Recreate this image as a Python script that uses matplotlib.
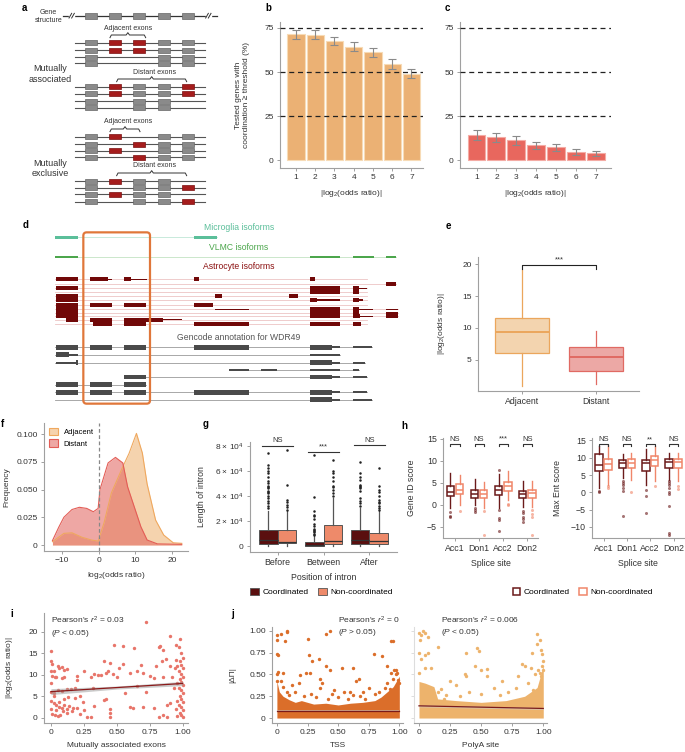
import matplotlib
matplotlib.use('Agg')
import matplotlib.pyplot as plt
import numpy as np
from matplotlib.patches import Rectangle, FancyBboxPatch, Patch

plt.rcParams['font.family'] = ['Liberation Sans', 'DejaVu Sans']
plt.rcParams['font.size'] = 6
plt.rcParams['mathtext.fontset'] = 'custom'
plt.rcParams['mathtext.rm'] = 'Liberation Sans'
plt.rcParams['mathtext.it'] = 'Liberation Sans:italic'
plt.rcParams['mathtext.bf'] = 'Liberation Sans:bold'

# ---------------- data ----------------
thresholds = [1, 2, 3, 4, 5, 6, 7]
adj_pct = [71.5, 71.3, 67.5, 64.3, 61.1, 54.5, 49.1]
adj_err = [2.5, 2.5, 2.4, 2.6, 2.6, 2.7, 2.7]
dist_pct = [14.2, 12.9, 11.2, 8.3, 7.2, 4.7, 3.8]
dist_err = [2.6, 2.5, 2.4, 2.2, 2.2, 1.8, 1.6]

e_groups = ['Adjacent', 'Distant']
e_stats = [  # whislo, q1, med, q3, whishi
    [1.0, 6.1, 9.3, 11.5, 19.0],
    [1.25, 3.2, 5.4, 7.1, 9.6],
]

f_adj_x = [-12.5, -9.4, -7.2, -4.5, -1.9, -0.1, 1.5, 3.5, 6.6, 8.3, 10.3, 11.9, 13.2, 15.5, 17.7, 20.3, 22.6]
f_adj_y = [0.003, 0.0105, 0.011, 0.007, 0.0045, 0.0035, 0.02, 0.047, 0.0706, 0.0826, 0.1006, 0.083, 0.055, 0.0225, 0.009, 0.002, 0.0015]
f_dist_x = [-12.5, -10.8, -9.4, -7.2, -5.2, -3.2, -1.4, -0.1, 0.4, 2.6, 4.6, 6.6, 7.9, 9.7, 11.5, 13.2, 16.0, 22.6]
f_dist_y = [0.004, 0.016, 0.025, 0.032, 0.034, 0.033, 0.030, 0.033, 0.05, 0.074, 0.079, 0.074, 0.0525, 0.0345, 0.0165, 0.0045, 0.001, 0.0006]

g_positions = ['Before', 'Between', 'After']
g_coord = [[0, 1300, 5250, 12850, 28000], [0, 260, 1000, 2900, 8400], [0, 1300, 5000, 12850, 30700]]
g_noncoord = [[0, 2400, 2900, 12850, 28000], [0, 1300, 4450, 17000, 38500], [0, 1800, 3900, 10200, 28000]]
g_coord_fliers = [
    [30000, 32000, 34000, 36000, 38000, 40000, 42000, 43000, 44000, 46000, 47000, 48000, 50000, 52000, 55000, 58000, 60000, 62000, 65000, 74000],
    [9000, 10000, 11000, 12000, 13000, 14000, 16000, 18000, 22000, 24000, 25000, 28000, 39500, 72600],
    [32000, 34000, 36000, 38000, 44000, 46000, 47000, 48000, 49000, 53000, 55000, 58000, 67300]]
g_noncoord_fliers = [
    [29000, 31000, 33000, 35500, 36500, 49000, 76500],
    [40000, 42000, 45000, 47000, 48000, 52000, 55000, 58000, 60000, 68600],
    [29000, 30000, 32000, 34000, 35000, 37000, 40000, 43000, 45000, 48000, 62000]]
g_sig = ['NS', '***', 'NS']
g_sig_y = [80000, 75300, 80300]

splice_sites = ['Acc1', 'Don1', 'Acc2', 'Don2']
geneid_coord = [[-0.6, 2.0, 3.0, 4.3, 7.2], [0.0, 1.6, 2.5, 3.4, 6.0], [-0.8, 2.3, 3.3, 4.2, 7.0], [-0.4, 1.5, 2.4, 3.2, 5.5]]
geneid_noncoord = [[0.0, 2.5, 3.5, 4.7, 6.8], [-0.6, 1.5, 2.5, 3.5, 5.3], [1.1, 3.2, 4.2, 5.1, 7.6], [-0.4, 1.6, 2.8, 3.5, 5.5]]
geneid_coord_fl = [[-1.6, -2.4, -2.7], [-0.8, -1.2, -1.6], [8.0, -1.2, -2.9, -3.5, -5.8], [-1.3, -1.9, -2.7, -3.1, -3.9]]
geneid_noncoord_fl = [[-1.3], [-1.3, -6.9], [0.3, -0.1], [-1.2, -2.0, -2.7, -6.9]]
geneid_sig = ['NS', 'NS', '***', 'NS']
maxent_coord = [[1.2, 6.1, 8.0, 11.0, 13.5], [4.1, 7.0, 8.5, 9.4, 11.2], [2.2, 6.3, 8.5, 9.4, 12.5], [3.7, 7.0, 8.7, 9.6, 11.3]]
maxent_noncoord = [[2.2, 6.5, 8.2, 9.6, 13.7], [3.7, 7.0, 8.5, 9.6, 11.5], [3.2, 7.5, 9.2, 10.6, 13.3], [3.2, 7.0, 8.7, 9.6, 11.3]]
maxent_coord_fl = [[0.5, 0.0], [3.2, 2.7, 2.2, 1.2, 0.3, -6.7], [0.8, -1.2, -6.0], [3.2, 2.7, 2.2, 1.2, 0.0, -0.4, -4.0, -11.7, -12.2]]
maxent_noncoord_fl = [[1.7, 1.2], [0.0], [1.7], [1.9, 1.0]]
maxent_sig = ['NS', 'NS', '**', 'NS']

i_points = [
    (0.00, 15.6), (0.00, 13.2), (0.01, 12.6), (0.00, 11.0), (0.02, 10.9), (0.01, 9.7), (0.03, 9.4), (0.00, 8.0),
    (0.05, 12.1), (0.06, 11.5), (0.08, 11.8), (0.10, 11.1), (0.12, 11.3), (0.04, 9.6), (0.08, 9.3), (0.10, 9.5),
    (0.00, 6.0), (0.02, 5.8), (0.05, 6.5), (0.08, 6.2), (0.12, 6.8), (0.15, 6.6), (0.00, 4.0), (0.02, 3.5),
    (0.04, 3.0), (0.06, 2.6), (0.08, 2.2), (0.10, 3.1), (0.12, 2.0), (0.14, 2.8), (0.16, 1.5), (0.00, 2.0),
    (0.01, 1.0), (0.03, 0.6), (0.05, 0.5), (0.07, 0.6), (0.09, 1.6), (0.12, 1.2), (0.04, 1.8), (0.06, 3.8),
    (0.10, 4.5), (0.02, 5.0), (0.13, 4.8), (0.17, 2.3), (0.18, 7.0), (0.20, 9.8), (0.20, 8.8), (0.18, 4.7),
    (0.20, 2.2), (0.22, 1.0), (0.24, 3.7), (0.25, 1.8), (0.22, 5.2), (0.25, 11.0), (0.27, 0.3), (0.30, 0.3),
    (0.30, 9.5), (0.33, 10.2), (0.32, 7.0), (0.33, 2.8), (0.36, 10.0), (0.38, 9.9), (0.40, 4.2), (0.42, 4.3),
    (0.40, 13.3), (0.42, 10.5), (0.43, 11.0), (0.45, 12.8), (0.47, 10.2), (0.48, 17.0), (0.45, 2.1), (0.45, 1.2),
    (0.45, 0.2), (0.50, 9.5), (0.52, 11.5), (0.55, 16.8), (0.55, 12.5), (0.56, 5.8), (0.60, 10.5), (0.60, 2.5),
    (0.62, 2.4), (0.63, 16.3), (0.65, 11.0), (0.65, 7.5), (0.68, 12.3), (0.70, 2.5), (0.70, 10.5), (0.72, 6.0),
    (0.72, 22.3), (0.75, 9.8), (0.78, 2.3), (0.78, 9.3), (0.80, 12.0), (0.82, 16.5), (0.82, 0.3), (0.83, 16.8),
    (0.84, 13.3), (0.85, 15.8), (0.85, 0.6), (0.85, 9.5), (0.87, 13.8), (0.88, 0.2), (0.88, 3.0), (0.90, 12.0),
    (0.90, 19.0), (0.90, 3.5), (0.92, 9.5), (0.93, 7.0), (0.94, 11.5), (0.95, 17.0), (0.95, 2.0), (0.98, 18.4),
    (0.97, 16.5), (0.99, 15.0), (1.00, 14.0), (0.98, 13.2), (0.99, 12.4), (1.00, 11.6), (0.97, 10.8), (0.99, 10.2),
    (1.00, 9.6), (0.98, 9.0), (0.99, 8.4), (1.00, 7.6), (0.97, 7.0), (0.99, 6.4), (1.00, 5.7), (0.98, 5.0),
    (0.99, 4.4), (1.00, 3.7), (0.97, 3.1), (0.99, 2.5), (1.00, 1.9), (0.98, 1.2), (0.99, 0.6), (1.00, 0.1),
    (0.96, 12.0), (0.96, 4.0), (0.96, 8.0), (0.95, 13.5), (0.96, 0.5)]
i_fit_x = [0.0, 0.5, 1.0]
i_fit_y = [6.1, 7.05, 8.0]
i_fit_se = [0.7, 0.35, 0.5]

j_tss_points = [
    (0.00, 0.95), (0.03, 0.97), (0.08, 0.99), (0.08, 1.00), (0.07, 0.88), (0.00, 0.90), (0.00, 0.73), (0.01, 0.72),
    (0.01, 0.53), (0.00, 0.50), (0.25, 0.91), (0.26, 0.72), (0.29, 0.65), (0.34, 0.68), (0.40, 0.96), (0.43, 1.00),
    (0.40, 0.60), (0.43, 0.55), (0.53, 0.58), (0.62, 0.58), (0.67, 0.45), (0.79, 0.74), (0.86, 0.71), (0.90, 0.60),
    (0.93, 0.88), (0.95, 0.89), (0.93, 0.52), (0.96, 0.55), (0.97, 0.50), (0.98, 0.52), (0.19, 0.49), (0.24, 0.52),
    (0.35, 0.45), (0.05, 0.52), (0.00, 0.42), (0.03, 0.42), (0.12, 0.38), (0.18, 0.40), (0.27, 0.52), (0.35, 0.35),
    (0.37, 0.40), (0.45, 0.28), (0.55, 0.30), (0.60, 0.30), (0.65, 0.42), (0.70, 0.30), (0.75, 0.35), (0.80, 0.28),
    (0.88, 0.35), (0.90, 0.40), (0.95, 0.45), (0.97, 0.55), (0.28, 0.28), (0.22, 0.25), (0.15, 0.30), (0.42, 0.22),
    (0.08, 0.30), (0.10, 0.26), (0.32, 0.24), (0.50, 0.24), (0.58, 0.22), (0.68, 0.25), (0.72, 0.22), (0.83, 0.30),
    (0.92, 0.33), (0.99, 0.44), (1.00, 0.40), (0.05, 0.36), (0.47, 0.32), (0.62, 0.27)]
j_tss_band_x = [0.0, 0.02, 0.05, 0.1, 0.15, 0.2, 0.3, 0.4, 0.5, 0.6, 0.7, 0.8, 0.85, 0.9, 0.95, 1.0]
j_tss_band_top = [0.42, 0.30, 0.25, 0.21, 0.18, 0.20, 0.16, 0.17, 0.15, 0.17, 0.18, 0.20, 0.24, 0.30, 0.36, 0.48]
j_polya_points = [
    (0.00, 0.98), (0.02, 0.95), (0.05, 0.98), (0.03, 1.00), (0.01, 0.90), (0.07, 0.93), (0.00, 0.75), (0.05, 0.72),
    (0.02, 0.68), (0.07, 0.75), (0.15, 0.81), (0.05, 0.58), (0.00, 0.52), (0.10, 0.57), (0.38, 0.75), (0.47, 0.80),
    (0.48, 0.77), (0.45, 0.60), (0.50, 0.55), (0.55, 0.56), (0.37, 0.50), (0.38, 0.48), (0.83, 0.62), (0.85, 0.60),
    (0.90, 0.58), (0.91, 0.75), (0.95, 0.85), (0.95, 0.97), (0.97, 0.90), (0.98, 0.78), (0.99, 0.73), (0.99, 0.60),
    (0.96, 0.55), (0.97, 0.52), (0.93, 0.50), (0.80, 0.48), (0.67, 0.43), (0.55, 0.48), (0.25, 0.42), (0.30, 0.38),
    (0.18, 0.33), (0.15, 0.30), (0.40, 0.30), (0.60, 0.35), (0.72, 0.30), (0.78, 0.35), (0.88, 0.40), (0.22, 0.27),
    (0.33, 0.25), (0.50, 0.28), (0.65, 0.26), (0.92, 0.32), (0.98, 0.48), (1.00, 0.66), (1.00, 0.55), (0.20, 0.22)]
j_polya_band_x = [0.0, 0.05, 0.12, 0.15, 0.3, 0.5, 0.7, 0.85, 0.95, 1.0]
j_polya_band_top = [0.42, 0.40, 0.36, 0.22, 0.20, 0.18, 0.20, 0.25, 0.35, 0.60]
j_tss_fit = [0.08, 0.08]
j_polya_fit = [0.14, 0.11]

# schematic structure (panel a): exon slots and row patterns (G grey, R red, 0 absent)
a_exon_slots = [272, 345, 418, 492, 565]
a_groups = [
    ([128, 150, 172, 190], ['GRRGG', 'GRRGG', 'G00GG', 'G00GG']),
    ([260, 281, 303, 323], ['GRGGR', 'GRGGR', 'G0GG0', 'G0GG0']),
    ([410, 432, 452, 472], ['GR0GG', 'G0RGG', 'GR0GG', 'G0RGG']),
    ([543, 563, 583, 605], ['GRGG0', 'G0GGR', 'GRGG0', 'G0GGR']),
]

# panel d isoform structures (genomic coordinate units)
microglia = [(165, 233), (583, 650)]
vlmc = [(165, 233), (930, 1020), (1058, 1122), (1158, 1188)]
astro_rows = [
    (238, [(168, 233, 1), (270, 325, 1), (325, 335, 0), (372, 392, 1), (392, 440, 0), (582, 597, 1), (930, 945, 1)]),
    (251, [(1158, 1188, 1)]),
    (265, [(168, 233, 1), (930, 1020, 1), (1058, 1078, 1), (1078, 1100, 0)]),
    (276, [(930, 1020, 1), (1058, 1078, 1)]),
    (288, [(168, 233, 1), (645, 665, 1), (868, 895, 1)]),
    (300, [(168, 233, 1), (930, 950, 1), (950, 1020, 0), (1058, 1078, 1), (1078, 1090, 0)]),
    (316, [(168, 233, 1), (270, 335, 1), (372, 438, 1), (582, 638, 1)]),
    (328, [(168, 233, 1), (645, 748, 0), (930, 1020, 1), (1058, 1078, 1), (1078, 1120, 0), (1158, 1195, 0)]),
    (339, [(168, 233, 1), (930, 1020, 1), (1058, 1078, 1), (1158, 1195, 0)]),
    (348, [(168, 233, 1), (930, 1020, 1), (1058, 1080, 1), (1080, 1120, 0), (1158, 1195, 1)]),
    (358, [(198, 233, 1), (270, 335, 1), (372, 438, 1), (438, 488, 1), (488, 545, 0)]),
    (370, [(280, 335, 1), (372, 438, 1), (582, 748, 1), (930, 1020, 1), (1058, 1082, 1)]),
]
gencode_rows = [
    (441, 165, [(168, 233, 1), (270, 335, 1), (372, 438, 1), (582, 748, 1), (930, 995, 1), (995, 1020, 0), (1058, 1115, 0)]),
    (463, 165, [(168, 208, 1), (208, 233, 0), (930, 1020, 0)]),
    (487, 165, [(168, 228, 0), (228, 233, 1), (930, 995, 1), (995, 1020, 0), (1058, 1095, 0)]),
    (508, 686, [(686, 748, 0), (783, 830, 0), (930, 1020, 0), (1058, 1078, 0)]),
    (530, 372, [(372, 438, 1), (930, 995, 1), (995, 1020, 0), (1058, 1100, 0)]),
    (553, 165, [(168, 233, 1), (270, 335, 1), (372, 438, 1)]),
    (576, 165, [(168, 233, 1), (270, 335, 1), (372, 438, 1), (582, 748, 1), (930, 995, 1), (995, 1020, 0), (1058, 1100, 0)]),
    (598, 165, [(930, 995, 1), (995, 1020, 0), (1058, 1115, 0)]),
]

# ---------------- figure ----------------
W, H = 685, 752
fig = plt.figure(figsize=(6.85, 7.52), dpi=100)
fig.patch.set_facecolor('white')

def add_ax(l, t, r, b):
    return fig.add_axes([l / W, 1 - b / H, (r - l) / W, (b - t) / H])

GREY = '#a0a0a0'
TXT = '#333333'
def style(ax):
    for s in ['top', 'right']:
        ax.spines[s].set_visible(False)
    for s in ['left', 'bottom']:
        ax.spines[s].set_color(GREY)
        ax.spines[s].set_linewidth(0.8)
    ax.tick_params(colors=GREY, labelcolor=TXT, length=2.5, width=0.7, labelsize=6, pad=2)

def plabel(x, y, s):
    fig.text(x / W, 1 - y / H, s, weight='bold', size=7, va='top', ha='left')

for (x, y, s) in [(22, 3, 'a'), (265, 3, 'b'), (445, 3, 'c'), (23, 220, 'd'), (446, 221, 'e'),
                  (1, 419, 'f'), (203, 419, 'g'), (401, 421, 'h'), (10, 609, 'i'), (231, 609, 'j')]:
    plabel(x, y, s)

# ---------- panel a ----------
axa = add_ax(0, 0, 230, 240)
axa.set_xlim(0, 690); axa.set_ylim(720, 0); axa.axis('off')
axa.plot([190, 650], [47, 47], color=TXT, lw=0.9, zorder=1)
for xs in [215, 625]:
    axa.add_patch(Rectangle((xs - 7, 42), 14, 10, color='white', zorder=2))
    for dx in [-4, 4]:
        axa.plot([xs + dx - 4, xs + dx + 4], [54, 40], color=TXT, lw=0.7, zorder=3)
for xc in a_exon_slots:
    axa.add_patch(Rectangle((xc - 18, 39), 36, 17, fc='#8a8a8a', ec='#666666', lw=0.5, zorder=3))
axa.text(145, 50, 'Gene\nstructure', ha='center', va='center', size=5, color=TXT, linespacing=1.1)
for rows, pats in a_groups:
    for ry, pat in zip(rows, pats):
        axa.plot([225, 615], [ry, ry], color='#555555', lw=0.8, zorder=1)
        for xc, p in zip(a_exon_slots, pat):
            if p == '0':
                continue
            fc = '#a51c1c' if p == 'R' else '#8a8a8a'
            ec = '#7a1010' if p == 'R' else '#666666'
            axa.add_patch(Rectangle((xc - 18, ry - 7.5), 36, 15, fc=fc, ec=ec, lw=0.5, zorder=3))

def brace(ax, x0, x1, y):
    m = (x0 + x1) / 2
    ax.plot([x0, x0 + 4, m - 5, m, m + 5, x1 - 4, x1], [y + 8, y, y, y - 7, y, y, y + 8],
            color=TXT, lw=0.7)

for (x0, x1, y, ty, lab) in [(330, 437, 105, 84, 'Adjacent exons'), (350, 560, 237, 216, 'Distant exons'),
                             (330, 420, 387, 364, 'Adjacent exons'), (350, 560, 519, 496, 'Distant exons')]:
    brace(axa, x0, x1, y)
    axa.text(383 if lab.startswith('Adj') else 463, ty, lab, ha='center', va='center', size=5, color=TXT)
axa.text(150, 222, 'Mutually\nassociated', ha='center', va='center', size=6.5, color=TXT, linespacing=1.2)
axa.text(150, 505, 'Mutually\nexclusive', ha='center', va='center', size=6.5, color=TXT, linespacing=1.2)

# ---------- panels b, c ----------
for (l, r, vals, errs, fc, ec, show_ylabel) in [
        (280, 423, adj_pct, adj_err, '#EBB174', '#F7DBB6', True),
        (460, 611, dist_pct, dist_err, '#E8675E', '#F4ABA4', False)]:
    ax = add_ax(l, 22, r, 168)
    style(ax)
    ax.bar(thresholds, vals, width=0.9, color=fc, edgecolor=ec, lw=0.8, zorder=2)
    ax.errorbar(thresholds, vals, yerr=errs, fmt='none', ecolor='#8a8a8a', elinewidth=0.8, capsize=2.8, capthick=0.8, zorder=3)
    for yv in [25, 50, 75]:
        ax.axhline(yv, color='#222222', lw=0.9, ls=(0, (4, 3)), zorder=4)
    ax.set_xlim(0.17, 7.6 if show_ylabel else 7.75)
    ax.set_ylim(-4.5, 78.4)
    ax.set_xticks(thresholds)
    ax.set_yticks([0, 25, 50, 75])
    ax.set_xlabel('|log$_2$(odds ratio)|', size=6, color=TXT, labelpad=5)
    if show_ylabel:
        ax.set_ylabel('Tested genes with\ncoordination \u2265 threshold (%)', size=6, color=TXT)
        ax.yaxis.set_label_coords(-0.21, 0.5)

# ---------- panel d ----------
axd = add_ax(50, 220, 400, 407)
axd.set_xlim(150, 1200); axd.set_ylim(620, 60); axd.axis('off')

def seg(ax, y, x0, x1, h, color, z=3):
    ax.add_patch(Rectangle((x0, y - h / 2), x1 - x0, h, color=color, lw=0, zorder=z))

axd.plot([165, 650], [112, 112], color='#BFE6D6', lw=0.6)
for (x0, x1) in microglia:
    seg(axd, 112, x0, x1, 8, '#5BBF9A')
axd.plot([165, 1188], [171, 171], color='#C3E3C3', lw=0.6)
for (x0, x1) in vlmc:
    seg(axd, 171, x0, x1, 8, '#4CA64C')
axd.text(717, 82, 'Microglia isoforms', ha='center', va='center', size=6.2, color='#5BBF9A')
axd.text(717, 143, 'VLMC isoforms', ha='center', va='center', size=6.2, color='#4CA64C')
axd.text(717, 200, 'Astrocyte isoforms', ha='center', va='center', size=6.2, color='#8B1010')
axd.text(717, 413, 'Gencode annotation for WDR49', ha='center', va='center', size=6.2, color='#555555')
for (y, segs) in astro_rows:
    end = max(s[1] for s in segs)
    axd.plot([165, max(end, 1100)], [y, y], color='#EDC4C4', lw=0.6, zorder=1)
    for (x0, x1, thick) in segs:
        seg(axd, y, x0, x1, 12 if thick else 4, '#710808')
for (y, start, segs) in gencode_rows:
    end = max(s[1] for s in segs)
    axd.plot([start, end], [y, y], color='#9a9a9a', lw=0.6, zorder=1)
    for (x0, x1, thick) in segs:
        seg(axd, y, x0, x1, 14 if thick else 6, '#4a4a4a')
axd.add_patch(FancyBboxPatch((250, 97), 200, 513, boxstyle='round,pad=0,rounding_size=10',
                             fc='none', ec='#E0773A', lw=1.6, zorder=5))

# ---------- panel e ----------
axe = add_ax(478, 257, 639, 391)
style(axe)
e_faces = ['#F3D4AF', '#ECA8A5']
e_edges = ['#EBA65C', '#E06A63']
for k, st in enumerate(e_stats):
    d = dict(whislo=st[0], q1=st[1], med=st[2], q3=st[3], whishi=st[4], fliers=[])
    axe.bxp([d], positions=[k], widths=0.73, patch_artist=True, showcaps=False,
            boxprops=dict(facecolor=e_faces[k], edgecolor=e_edges[k], lw=0.9),
            medianprops=dict(color=e_edges[k], lw=1.4),
            whiskerprops=dict(color=e_edges[k], lw=0.9))
axe.set_xlim(-0.6, 1.58); axe.set_ylim(0.15, 21.1)
axe.set_xticks([0, 1]); axe.set_xticklabels(e_groups)
axe.set_yticks([5, 10, 15, 20])
axe.tick_params(axis='x', labelsize=6.3)
axe.set_ylabel('|log$_2$(odds ratio)|', size=6, color=TXT)
axe.yaxis.set_label_coords(-0.19, 0.5)
axe.plot([0, 0, 1, 1], [19.3, 19.9, 19.9, 19.3], color='#222222', lw=0.8)
axe.text(0.5, 20.1, '***', ha='center', va='bottom', size=5.5, color=TXT)

# ---------- panel f ----------
axf = add_ax(44, 423, 188, 551)
style(axf)
axf.fill_between(f_adj_x, f_adj_y, color='#EDA85E', alpha=0.5, lw=0, zorder=2)
axf.plot(f_adj_x, f_adj_y, color='#EFA85E', lw=0.8, zorder=3)
axf.fill_between(f_dist_x, f_dist_y, color='#E0605A', alpha=0.55, lw=0, zorder=2)
axf.plot(f_dist_x, f_dist_y, color='#E35D56', lw=0.8, zorder=3)
axf.axvline(0, color='#888888', lw=0.9, ls=(0, (3, 2)), zorder=4)
axf.set_xlim(-14.8, 24.3); axf.set_ylim(-0.0054, 0.11)
axf.set_xticks([-10, 0, 10, 20]); axf.set_xticklabels(['\u221210', '0', '10', '20'])
axf.set_yticks([0, 0.025, 0.05, 0.075, 0.1]); axf.set_yticklabels(['0', '0.025', '0.050', '0.075', '0.100'])
axf.set_xlabel('log$_2$(odds ratio)', size=6, color=TXT)
axf.set_ylabel('Frequency', size=6, color=TXT)
axf.yaxis.set_label_coords(-0.235, 0.5)
axf.legend(handles=[Patch(fc='#F6D3AE', ec='#EFA85E', lw=0.8), Patch(fc='#EEA8A4', ec='#E35D56', lw=0.8)],
           labels=['Adjacent', 'Distant'], loc='upper left', bbox_to_anchor=(0.0, 1.0), frameon=False,
           fontsize=5.5, handlelength=1.2, handleheight=1.2, borderaxespad=0.2, labelspacing=0.4)

# ---------- panel g ----------
axg = add_ax(250, 442, 397, 552)
style(axg)
for k in range(3):
    for st, fl, off, fc in [(g_coord[k], g_coord_fliers[k], -0.2, '#5A0F0F'),
                            (g_noncoord[k], g_noncoord_fliers[k], 0.2, '#EE8A6A')]:
        d = dict(whislo=st[0], q1=st[1], med=st[2], q3=st[3], whishi=st[4], fliers=fl)
        axg.bxp([d], positions=[k + off], widths=0.4, patch_artist=True, showcaps=False,
                boxprops=dict(facecolor=fc, edgecolor='#555555', lw=0.7),
                medianprops=dict(color='#333333', lw=0.9),
                whiskerprops=dict(color='#555555', lw=0.9),
                flierprops=dict(marker='o', ms=0.8, mfc='#222222', mec='#222222', lw=0))
    axg.plot([k - 0.33, k + 0.33], [g_sig_y[k], g_sig_y[k]], color=TXT, lw=0.8)
    axg.text(k, g_sig_y[k] + 1200, g_sig[k], ha='center', va='bottom', size=5.5, color=TXT)
axg.set_xlim(-0.6, 2.6); axg.set_ylim(-4700, 83000)
axg.set_xticks([0, 1, 2]); axg.set_xticklabels(g_positions, size=6.3)
axg.set_yticks([0, 20000, 40000, 60000, 80000])
axg.set_yticklabels(['0', '2 \u00d7 10$^4$', '4 \u00d7 10$^4$', '6 \u00d7 10$^4$', '8 \u00d7 10$^4$'])
axg.set_xlabel('Position of intron', size=6.3, color=TXT)
axg.set_ylabel('Length of intron', size=6.3, color=TXT)
axg.yaxis.set_label_coords(-0.3, 0.5)

fig.legend(handles=[Patch(fc='#5A0F0F', ec='#555555', lw=0.6), Patch(fc='#EE8A6A', ec='#555555', lw=0.6)],
           labels=['Coordinated', 'Non-coordinated'], loc='center left',
           bbox_to_anchor=(243 / W, 1 - 592 / H), ncol=2, frameon=False, fontsize=6,
           handlelength=1.0, handleheight=1.0, columnspacing=1.2, handletextpad=0.4)

# ---------- panel h ----------
CO, NC = '#6B1A1A', '#F0866A'
for (l, r, coord, nonc, cfl, nfl, sig, ylim, yticks, ylab, labx, sig_y) in [
        (443, 538, geneid_coord, geneid_noncoord, geneid_coord_fl, geneid_noncoord_fl, geneid_sig,
         (-7.5, 15.2), [-5, 0, 5, 10, 15], 'Gene ID score', -0.28, 13.9),
        (592, 684, maxent_coord, maxent_noncoord, maxent_coord_fl, maxent_noncoord_fl, maxent_sig,
         (-13.2, 15.7), [-10, -5, 0, 5, 10, 15], 'Max Ent score', -0.33, 14.0)]:
    ax = add_ax(l, 438, r, 538)
    style(ax)
    for k in range(4):
        for st, fl, off, col in [(coord[k], cfl[k], -0.19, CO), (nonc[k], nfl[k], 0.19, NC)]:
            d = dict(whislo=st[0], q1=st[1], med=st[2], q3=st[3], whishi=st[4], fliers=fl)
            ax.bxp([d], positions=[k + off], widths=0.32, patch_artist=True, showcaps=False,
                   boxprops=dict(facecolor='white', edgecolor=col, lw=1.1),
                   medianprops=dict(color=col, lw=1.1),
                   whiskerprops=dict(color=col, lw=1.0),
                   flierprops=dict(marker='o', ms=2.2, mfc=col, mec='none', alpha=0.6))
        ax.plot([k - 0.19, k - 0.19, k + 0.19, k + 0.19], [sig_y - 0.6, sig_y, sig_y, sig_y - 0.6],
                color=TXT, lw=0.8)
        ax.text(k, sig_y + 0.2, sig[k], ha='center', va='bottom', size=5.5, color=TXT)
    ax.set_xlim(-0.5, 3.45); ax.set_ylim(*ylim)
    ax.set_xticks(range(4)); ax.set_xticklabels(splice_sites, size=6.3)
    ax.set_yticks(yticks)
    ax.set_yticklabels([('\u2212' + str(-v)) if v < 0 else str(v) for v in yticks], size=6.3)
    ax.set_xlabel('Splice site', size=6.3, color=TXT)
    ax.set_ylabel(ylab, size=6.3, color=TXT)
    ax.yaxis.set_label_coords(labx, 0.5)

fig.legend(handles=[Patch(fc='white', ec=CO, lw=1.1), Patch(fc='white', ec=NC, lw=1.1)],
           labels=['Coordinated', 'Non-coordinated'], loc='center left',
           bbox_to_anchor=(505 / W, 1 - 592 / H), ncol=2, frameon=False, fontsize=6,
           handlelength=0.9, handleheight=1.0, columnspacing=1.2, handletextpad=0.4)

# ---------- panel i ----------
axi = add_ax(44, 613, 188, 723)
style(axi)
ix = [p[0] for p in i_points]; iy = [p[1] for p in i_points]
axi.scatter(ix, iy, s=6, color='#E8756A', lw=0, zorder=2)
axi.fill_between(i_fit_x, np.array(i_fit_y) - np.array(i_fit_se), np.array(i_fit_y) + np.array(i_fit_se),
                 color='#999999', alpha=0.5, lw=0, zorder=3)
axi.plot(i_fit_x, i_fit_y, color='#8B1A1A', lw=0.9, zorder=4)
axi.set_xlim(-0.053, 1.04); axi.set_ylim(-1.2, 24.4)
axi.set_xticks([0, 0.25, 0.5, 0.75, 1.0]); axi.set_xticklabels(['0', '0.25', '0.50', '0.75', '1.00'])
axi.set_yticks([0, 5, 10, 15, 20])
axi.set_xlabel('Mutually associated exons', size=6, color=TXT)
axi.set_ylabel('|log$_2$(odds ratio)|', size=6, color=TXT)
axi.yaxis.set_label_coords(-0.2, 0.5)
axi.text(0.05, 0.98, "Pearson's $r^2$ = 0.03\n($P$ < 0.05)", transform=axi.transAxes, ha='left', va='top',
         size=6, color=TXT, linespacing=1.2)

# ---------- panel j ----------
for (l, r, pts, bx, btop, fit, col, txt, lab, first, tx) in [
        (272, 403, j_tss_points, j_tss_band_x, j_tss_band_top, j_tss_fit, '#DB6E2A',
         "Pearson's $r^2$ = 0\n($P$ > 0.05)", 'TSS', True, 0.5),
        (414, 547, j_polya_points, j_polya_band_x, j_polya_band_top, j_polya_fit, '#EDB36C',
         "Pearson's $r^2$ = 0.006\n($P$ < 0.05)", 'PolyA site', False, 0.2)]:
    ax = add_ax(l, 627, r, 723)
    style(ax)
    ax.fill_between(bx, 0, btop, color=col, lw=0, zorder=2)
    ax.scatter([p[0] for p in pts], [p[1] for p in pts], s=6, color=col, lw=0, zorder=2)
    ax.fill_between([0, 1], np.array(fit) - 0.012, np.array(fit) + 0.012, color='#cccccc', alpha=0.6, lw=0, zorder=3)
    ax.plot([0, 1], fit, color='#7A1A1A', lw=0.9, zorder=4)
    ax.set_xlim(-0.04, 1.03); ax.set_ylim(-0.057, 1.045)
    ax.set_xticks([0, 0.25, 0.5, 0.75, 1.0]); ax.set_xticklabels(['0', '0.25', '0.50', '0.75', '1.00'])
    ax.set_yticks([0, 0.25, 0.5, 0.75, 1.0])
    if first:
        ax.set_yticklabels(['0', '0.25', '0.50', '0.75', '1.00'])
        ax.set_ylabel('|\u0394\u03a0|', size=6, color=TXT)
        ax.yaxis.set_label_coords(-0.27, 0.5)
    else:
        ax.set_yticklabels([])
        ax.spines['left'].set_color('#dddddd')
        ax.tick_params(axis='y', colors='#dddddd')
    ax.set_xlabel(lab, size=6, color=TXT)
    ax.text(tx, 1.13, txt, transform=ax.transAxes, ha='left', va='top',
            size=6, color=TXT, linespacing=1.2)

fig.savefig('out.png', dpi=100, facecolor='white')
